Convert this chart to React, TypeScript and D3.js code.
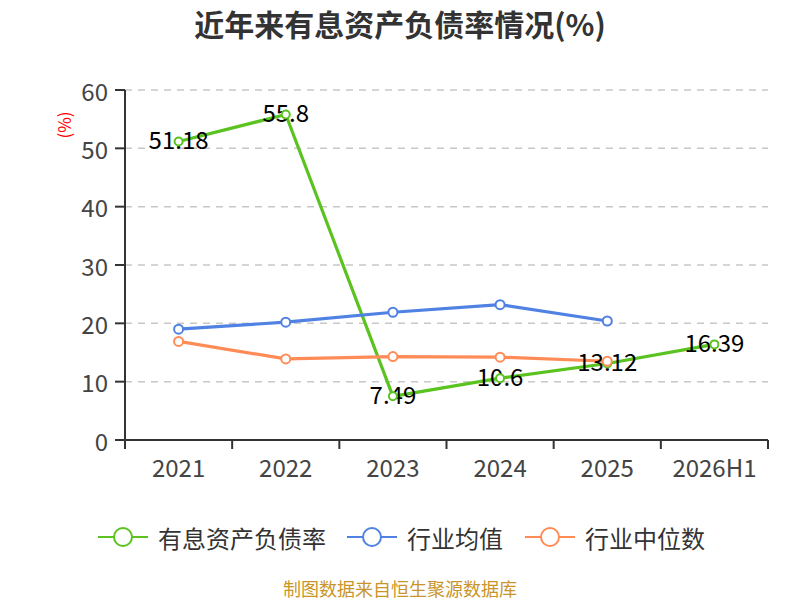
import React from "react";
import * as d3 from "d3";

const categories = ["2021", "2022", "2023", "2024", "2025", "2026H1"];
const debtRatio = [51.18, 55.8, 7.49, 10.6, 13.12, 16.39];
const industryAvg = [19.0, 20.2, 21.9, 23.2, 20.4, null];
const industryMedian = [16.9, 13.9, 14.3, 14.2, 13.5, null];
const yTicks = [0, 10, 20, 30, 40, 50, 60];
const seriesNames = ["有息资产负债率", "行业均值", "行业中位数"];
const colors = ["#5ac31f", "#4f82e3", "#ff8c57"];

const FONT = "'Noto Sans CJK SC', 'Noto Sans', sans-serif";

export default function App() {
  const W = 800, H = 600;
  const x = d3.scaleBand<string>().domain(categories).range([125, 768]);
  const y = d3.scaleLinear().domain([0, 60]).range([440, 90]);
  const cx = (c: string) => (x(c) as number) + x.bandwidth() / 2;

  const series = [debtRatio, industryAvg, industryMedian];
  const line = d3
    .line<[string, number | null]>()
    .defined((d) => d[1] != null)
    .x((d) => cx(d[0]))
    .y((d) => y(d[1] as number));

  const legendX = [98, 347, 525];

  return (
    <svg width={W} height={H} style={{ position: "absolute", left: 0, top: 0, fontFamily: FONT }}>
      <rect width={W} height={H} fill="#fff" />
      <text x={400} y={23} textAnchor="middle" dominantBaseline="central" fontSize={30} fontWeight="bold" fill="#333">
        近年来有息资产负债率情况(%)
      </text>
      {/* grid */}
      {yTicks.filter((t) => t > 0).map((t) => (
        <line key={t} x1={125} x2={768} y1={y(t)} y2={y(t)} stroke="#c8c8c8" strokeWidth={1.5} strokeDasharray="7,6" />
      ))}
      {/* y axis */}
      <line x1={125} x2={125} y1={90} y2={440} stroke="#333" strokeWidth={2} />
      {yTicks.map((t) => (
        <g key={t}>
          <line x1={115} x2={125} y1={y(t)} y2={y(t)} stroke="#333" strokeWidth={2} />
          <text x={108} y={y(t)} textAnchor="end" dominantBaseline="central" fontSize={24} fill="#444">
            {t}
          </text>
        </g>
      ))}
      <text transform="translate(63,125) rotate(-90)" textAnchor="middle" dominantBaseline="central" fontSize={17} fill="#ff0000">
        (%)
      </text>
      {/* x axis */}
      <line x1={125} x2={768} y1={440} y2={440} stroke="#333" strokeWidth={2} />
      {[...categories.map((c) => x(c) as number), 768].map((px, i) => (
        <line key={i} x1={px} x2={px} y1={440} y2={449} stroke="#333" strokeWidth={2} />
      ))}
      {categories.map((c) => (
        <text key={c} x={cx(c)} y={466} textAnchor="middle" dominantBaseline="central" fontSize={24} fill="#444">
          {c}
        </text>
      ))}
      {/* lines */}
      {series.map((s, i) => (
        <path
          key={i}
          d={line(categories.map((c, j) => [c, s[j]] as [string, number | null])) || ""}
          fill="none"
          stroke={colors[i]}
          strokeWidth={3.2}
          strokeLinejoin="round"
        />
      ))}
      {/* labels */}
      {debtRatio.map((v, j) => (
        <text key={j} x={cx(categories[j])} y={y(v) - 3} textAnchor="middle" dominantBaseline="central" fontSize={24} fill="#000">
          {v}
        </text>
      ))}
      {/* markers */}
      {series.map((s, i) =>
        s.map((v, j) =>
          v == null ? null : (
            <circle key={`${i}-${j}`} cx={cx(categories[j])} cy={y(v)} r={i === 0 ? 4 : 4.5} fill="#fff" stroke={colors[i]} strokeWidth={2} />
          )
        )
      )}
      {/* legend */}
      {seriesNames.map((n, i) => (
        <g key={n}>
          <line x1={legendX[i]} x2={legendX[i] + 50} y1={537} y2={537} stroke={colors[i]} strokeWidth={2} />
          <circle cx={legendX[i] + 25} cy={537} r={9} fill="#fff" stroke={colors[i]} strokeWidth={2} />
          <text x={legendX[i] + 60} y={537} dominantBaseline="central" fontSize={24} fill="#333">
            {n}
          </text>
        </g>
      ))}
      <text x={400} y={588} textAnchor="middle" dominantBaseline="central" fontSize={18} fill="#c9952b">
        制图数据来自恒生聚源数据库
      </text>
    </svg>
  );
}
